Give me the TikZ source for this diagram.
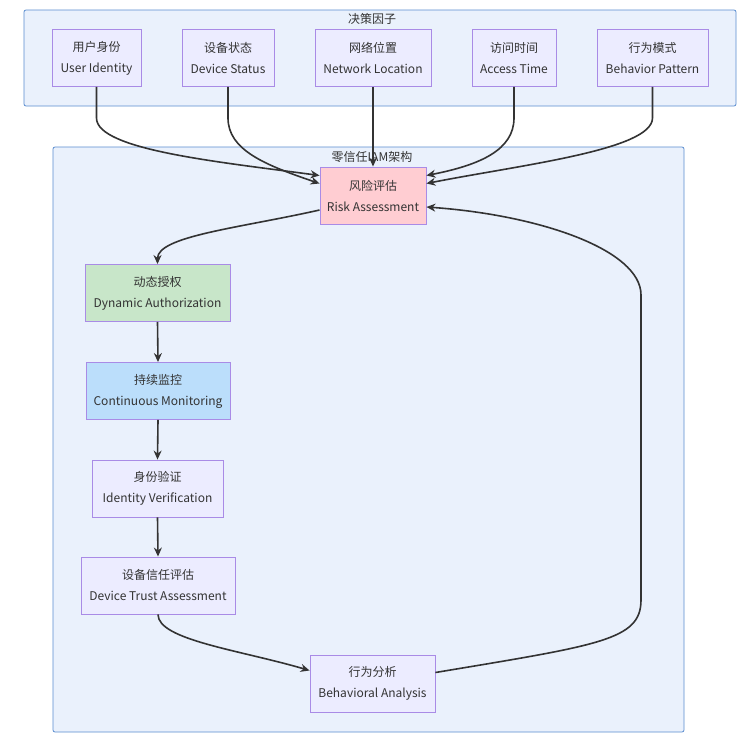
\documentclass[tikz,border=0pt]{standalone}
\usepackage{fontspec}
\setmainfont{Noto Sans CJK SC}
\usetikzlibrary{arrows.meta}
\definecolor{clfill}{HTML}{EAF1FC}
\definecolor{clline}{HTML}{5A8DCF}
\definecolor{nfill}{HTML}{ECECFF}
\definecolor{nline}{HTML}{A98BE6}
\definecolor{riskfill}{HTML}{FFCDD2}
\definecolor{authfill}{HTML}{C8E6C9}
\definecolor{monfill}{HTML}{BBDEFB}
\definecolor{edgec}{HTML}{333333}
\definecolor{txt}{HTML}{333333}
\tikzset{
  cluster/.style={draw=clline, fill=clfill, line width=0.8pt, rounded corners=2pt},
  nbox/.style={draw=nline, fill=nfill, line width=0.9pt, align=center, minimum height=57pt, inner sep=2pt, text=txt, font=\fontsize{12}{21}\selectfont},
  ctitle/.style={text=txt, font=\fontsize{12}{14}\selectfont, inner sep=0pt},
  conn/.style={draw=edgec, line width=1.6pt, -{Stealth[length=9pt,width=8pt]}}
}
\begin{document}
\begin{tikzpicture}[x=1pt,y=-1pt]
\useasboundingbox (0,0) rectangle (750,747);
\fill[white] (0,0) rectangle (750,747);
% clusters
\draw[cluster] (24,10) rectangle (736,106);
\node[ctitle] (t1) at (372,19) {决策因子};
\draw[cluster] (53,147) rectangle (684,732);
\node[ctitle] (t2) at (372,157) {零信任IAM架构};
% top nodes
\node[nbox, minimum width=89pt] (ui) at (96.5,58) {用户身份\\User Identity};
\node[nbox, minimum width=92pt] (ds) at (228,58) {设备状态\\Device Status};
\node[nbox, minimum width=116pt] (nl) at (373,58) {网络位置\\Network Location};
\node[nbox, minimum width=84pt] (at) at (514,58) {访问时间\\Access Time};
\node[nbox, minimum width=111pt] (bp) at (652.5,58) {行为模式\\Behavior Pattern};
% main nodes
\node[nbox, fill=riskfill, minimum width=106pt] (ra) at (373,195.5) {风险评估\\Risk Assessment};
\node[nbox, fill=authfill, minimum width=145pt] (da) at (157.5,293) {动态授权\\Dynamic Authorization};
\node[nbox, fill=monfill, minimum width=144pt] (cm) at (158,391) {持续监控\\Continuous Monitoring};
\node[nbox, minimum width=131pt] (iv) at (157.5,488.5) {身份验证\\Identity Verification};
\node[nbox, minimum width=154pt] (dt) at (158,585.5) {设备信任评估\\Device Trust Assessment};
\node[nbox, minimum width=125pt] (ba) at (372.5,683.5) {行为分析\\Behavioral Analysis};
% edges
\draw[conn] (ui.south) -- (96.5,118) .. controls (96.5,150) and (220,162) .. ([yshift=20pt]ra.west);
\draw[conn] (ds.south) -- (228,118) .. controls (228,150) and (265,165) .. ([yshift=12pt]ra.west);
\draw[conn] (nl.south) -- (ra.north);
\draw[conn] (at.south) -- (514,118) .. controls (514,150) and (480,165) .. ([yshift=20pt]ra.east);
\draw[conn] (bp.south) -- (652.5,118) .. controls (652.5,150) and (520,165) .. ([yshift=12pt]ra.east);
\draw[conn] ([yshift=-14.5pt]ra.west) .. controls (240,228) and (157.5,236) .. (da.north);
\draw[conn] (da.south) -- (cm.north);
\draw[conn] (cm.south) -- (iv.north);
\draw[conn] (iv.south) -- (dt.north);
\draw[conn] (dt.south) .. controls (158,640) and (240,650) .. ([yshift=13pt]ba.west);
\draw[conn] ([yshift=11pt]ba.east) .. controls (600,645) and (641,640) .. (641,600) -- (641,295) .. controls (641,250) and (540,215) .. ([yshift=-11.5pt]ra.east);
\end{tikzpicture}
\end{document}
